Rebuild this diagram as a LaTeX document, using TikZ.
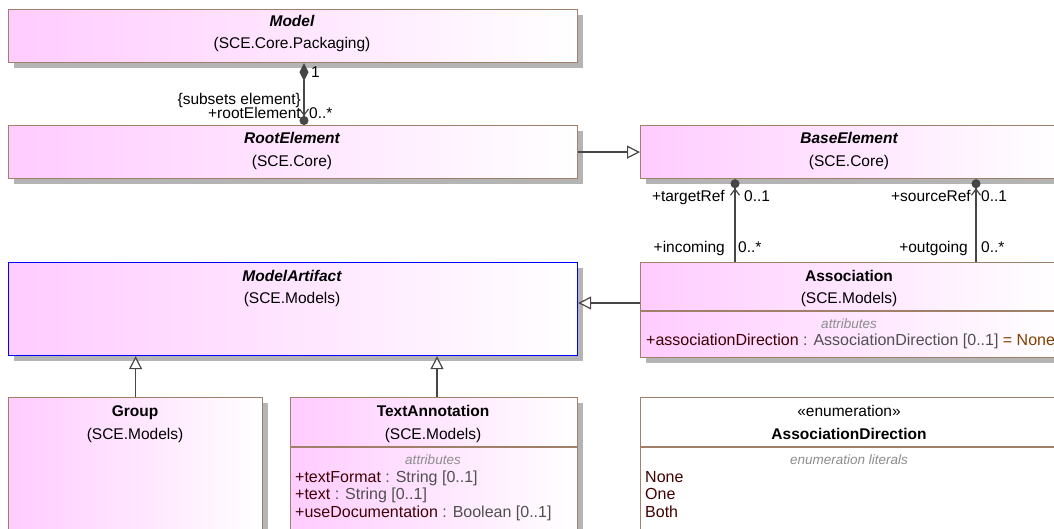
\documentclass[tikz,border=0pt]{standalone}
\usepackage{fontspec}
\setmainfont{Liberation Sans}
\usetikzlibrary{arrows.meta,shadows}

\definecolor{umlpink}{RGB}{255,204,255}
\definecolor{umlborder}{RGB}{160,128,104}
\definecolor{umlline}{RGB}{70,70,70}
\definecolor{umlshadow}{RGB}{180,180,180}
\definecolor{attrname}{RGB}{64,0,0}
\definecolor{attrtype}{RGB}{80,80,80}
\definecolor{attrdefault}{RGB}{128,64,0}
\definecolor{compgray}{RGB}{140,140,140}

\newcommand{\umlfont}{\fontsize{15.5}{18}\selectfont}
\newcommand{\umlattrfont}{\fontsize{16}{18}\selectfont}
\newcommand{\umlsmall}{\fontsize{13.5}{16}\selectfont}

\tikzset{
	umlclass/.style={draw=umlborder, line width=1.2pt, left color=umlpink, right color=white,
		drop shadow={shadow xshift=5pt, shadow yshift=-5pt, fill=umlshadow, opacity=1},
		anchor=north west, inner sep=0pt},
	classname/.style={anchor=base, inner sep=0pt, font=\umlfont\bfseries},
	pkgname/.style={anchor=base, inner sep=0pt, font=\umlfont},
	compart/.style={anchor=base, inner sep=0pt, font=\umlsmall\itshape, text=compgray},
	attr/.style={anchor=base west, inner sep=0pt, font=\umlattrfont},
	role/.style={inner sep=0pt, font=\umlfont},
	divider/.style={draw=umlborder, line width=1.2pt},
	genline/.style={draw=umlline, line width=1.2pt, -{Triangle[length=13pt,width=13pt,fill=white]}},
	navline/.style={draw=umlline, line width=1.2pt, -{Straight Barb[length=6pt,width=9pt]Circle[length=9pt]}}
}

\begin{document}
\begin{tikzpicture}[x=1pt, y=-1pt]
	\useasboundingbox (0,0) rectangle (1054,529);

	% classes
	\node[umlclass, minimum width=569pt, minimum height=53pt] (model) at (8,9) {};
	\node[umlclass, minimum width=569pt, minimum height=53pt] (root) at (8,125) {};
	\node[umlclass, minimum width=418pt, minimum height=53pt] (base) at (640,125) {};
	\node[umlclass, draw=blue, minimum width=569pt, minimum height=93pt] (artifact) at (8,262) {};
	\node[umlclass, minimum width=418pt, minimum height=95pt] (assoc) at (640,262) {};
	\node[umlclass, minimum width=254pt, minimum height=140pt] (group) at (8,397) {};
	\node[umlclass, minimum width=287pt, minimum height=140pt] (textann) at (290,397) {};
	\node[umlclass, left color=white, right color=white, minimum width=418pt, minimum height=140pt] (enumdir) at (640,397) {};

	\draw[divider] ([yshift=-49pt]assoc.north west) -- ([yshift=-49pt]assoc.north east);
	\draw[divider] ([yshift=-50pt]textann.north west) -- ([yshift=-50pt]textann.north east);
	\draw[divider] ([yshift=-50pt]enumdir.north west) -- ([yshift=-50pt]enumdir.north east);

	% texts
	\node[classname] (modelname) at (292,27) {\itshape Model};
	\node[pkgname] (modelpkg) at (292,49) {(SCE.Core.Packaging)};
	\node[classname] (rootname) at (292,144) {\itshape RootElement};
	\node[pkgname] (rootpkg) at (292,167) {(SCE.Core)};
	\node[classname] (basename) at (849,144) {\itshape BaseElement};
	\node[pkgname] (basepkg) at (849,167) {(SCE.Core)};
	\node[classname] (artifactname) at (292,281) {\itshape ModelArtifact};
	\node[pkgname] (artifactpkg) at (292,303) {(SCE.Models)};
	\node[classname] (assocname) at (849,281) {Association};
	\node[pkgname] (assocpkg) at (849,303) {(SCE.Models)};
	\node[compart] (assoccomp) at (849,328) {attributes};
	\node[attr] (assocattr) at (646,345) {\textcolor{attrname}{+associationDirection} \textcolor{attrtype}{: AssociationDirection [0..1]} \textcolor{attrdefault}{= None}};
	\node[classname] (groupname) at (135,416) {Group};
	\node[pkgname] (grouppkg) at (135,439) {(SCE.Models)};
	\node[classname] (textannname) at (433,416) {TextAnnotation};
	\node[pkgname] (textannpkg) at (433,439) {(SCE.Models)};
	\node[compart] (textanncomp) at (433,464) {attributes};
	\node[attr] (attrformat) at (295,482) {\textcolor{attrname}{+textFormat} \textcolor{attrtype}{: String [0..1]}};
	\node[attr] (attrtext) at (295,499) {\textcolor{attrname}{+text} \textcolor{attrtype}{: String [0..1]}};
	\node[attr] (attrdoc) at (295,517) {\textcolor{attrname}{+useDocumentation} \textcolor{attrtype}{: Boolean [0..1]}};
	\node[pkgname] (enumstereo) at (849,416) {«enumeration»};
	\node[classname] (enumname) at (849,439) {AssociationDirection};
	\node[compart] (enumcomp) at (849,464) {enumeration literals};
	\node[attr, text=attrname] (litnone) at (645,482) {None};
	\node[attr, text=attrname] (litone) at (645,499) {One};
	\node[attr, text=attrname] (litboth) at (645,517) {Both};

	% connectors
	\draw[umlline, line width=1.2pt, {Diamond[length=18pt,width=9pt]}-{Straight Barb[length=6pt,width=9pt]Circle[length=9pt]}] ([xshift=296pt]model.south west) -- ([xshift=296pt]root.north west);
	\node[role, anchor=base west] (compone) at (311,78) {1};
	\node[role, anchor=base east] (compsubset) at (301,105) {\{subsets element\}};
	\node[role, anchor=base east] (comprole) at (301,119) {+rootElement};
	\node[role, anchor=base west] (compmult) at (309,119) {0..*};

	\draw[genline] (root.east) -- (base.west);
	\draw[genline] ([yshift=-41pt]assoc.north west) -- ([yshift=-41pt]artifact.north east);
	\draw[genline] (group.north) -- (group.north |- artifact.south);
	\draw[genline] ([xshift=147pt]textann.north west) -- ([xshift=147pt]textann.north west |- artifact.south);

	\draw[navline] ([xshift=95pt]assoc.north west) -- ([xshift=95pt]base.south west);
	\draw[navline] ([xshift=336pt]assoc.north west) -- ([xshift=336pt]base.south west);
	\node[role, anchor=base east] (tgtrole) at (725,202) {+targetRef};
	\node[role, anchor=base west] (tgtmult) at (744,202) {0..1};
	\node[role, anchor=base east] (inrole) at (725,252) {+incoming};
	\node[role, anchor=base west] (inmult) at (738,252) {0..*};
	\node[role, anchor=base east] (srcrole) at (971,202) {+sourceRef};
	\node[role, anchor=base west] (srcmult) at (981,202) {0..1};
	\node[role, anchor=base east] (outrole) at (968,252) {+outgoing};
	\node[role, anchor=base west] (outmult) at (981,252) {0..*};
\end{tikzpicture}
\end{document}
